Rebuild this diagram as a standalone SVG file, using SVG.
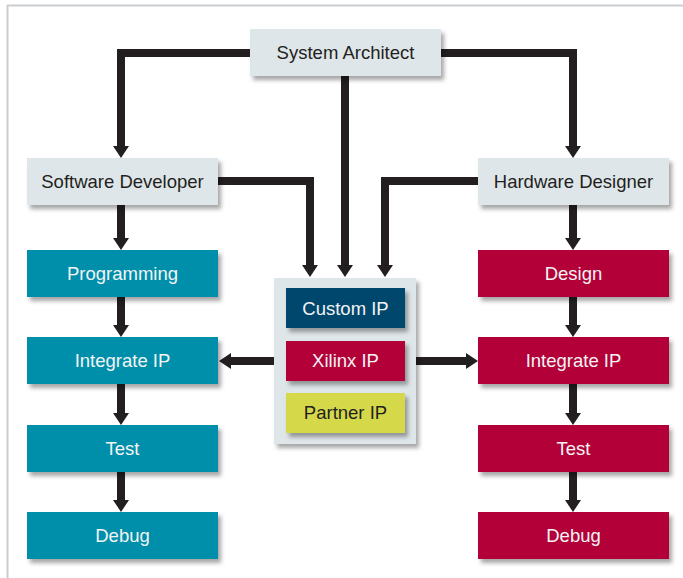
<svg xmlns="http://www.w3.org/2000/svg" width="683" height="578" viewBox="0 0 683 578">
<defs>
<filter id="sh" x="-10%" y="-20%" width="130%" height="150%">
<feDropShadow dx="3" dy="4" stdDeviation="2.2" flood-color="#000" flood-opacity="0.35"/>
</filter>
<marker id="ah" viewBox="0 0 12 16" refX="0" refY="8" markerWidth="12" markerHeight="16" markerUnits="userSpaceOnUse" orient="auto">
<path d="M0,0 L12,8 L0,16 Z" fill="#231f20"/>
</marker>
<style>
.lt{fill:#dfe6e9}
.tl{fill:#008fab}
.rd{fill:#b30037}
.nv{fill:#00466e}
.yl{fill:#d5d94a}
.bx{filter:url(#sh)}
text{font-family:"Liberation Sans",Arial,sans-serif;font-size:18.5px;text-anchor:middle}
.dk{fill:#231f20}
.wt{fill:#f4f4f4}
.cn{fill:none;stroke:#231f20;stroke-width:8;stroke-linejoin:miter;stroke-linecap:butt}
</style>
</defs>
<rect width="683" height="578" fill="#fff"/>
<g id="frame" stroke="#c9ced2" stroke-width="2" fill="none">
<line x1="7" y1="5.5" x2="683" y2="5.5"/>
<line x1="7.5" y1="5" x2="7.5" y2="578"/>
</g>
<g id="connectors">
<path class="cn" d="M250,53 H121 V146" marker-end="url(#ah)"/>
<path class="cn" d="M441,53 H573 V146" marker-end="url(#ah)"/>
<path class="cn" d="M345,76 V265" marker-end="url(#ah)"/>
<path class="cn" d="M218,181 H310 V265" marker-end="url(#ah)"/>
<path class="cn" d="M478,181 H385 V265" marker-end="url(#ah)"/>
<path class="cn" d="M121,205 V238" marker-end="url(#ah)"/>
<path class="cn" d="M121,297 V325" marker-end="url(#ah)"/>
<path class="cn" d="M121,384 V413" marker-end="url(#ah)"/>
<path class="cn" d="M121,472 V500" marker-end="url(#ah)"/>
<path class="cn" d="M573,205 V238" marker-end="url(#ah)"/>
<path class="cn" d="M573,297 V325" marker-end="url(#ah)"/>
<path class="cn" d="M573,384 V413" marker-end="url(#ah)"/>
<path class="cn" d="M573,472 V500" marker-end="url(#ah)"/>
<path class="cn" d="M274,361 H231" marker-end="url(#ah)"/>
<path class="cn" d="M416,361 H466" marker-end="url(#ah)"/>
</g>
<g id="system-architect"><rect class="lt bx" x="250" y="29" width="191" height="47"/><text class="dk" x="345.5" y="59">System Architect</text></g>
<g id="software-developer"><rect class="lt bx" x="27" y="158" width="191" height="47"/><text class="dk" x="122.5" y="188">Software Developer</text></g>
<g id="hardware-designer"><rect class="lt bx" x="478" y="158" width="191" height="47"/><text class="dk" x="573.5" y="188">Hardware Designer</text></g>
<g id="ip-panel"><rect class="lt bx" x="274" y="278" width="142" height="166"/></g>
<g id="custom-ip"><rect class="nv bx" x="286" y="288" width="119" height="40"/><text class="wt" x="345.5" y="315">Custom IP</text></g>
<g id="xilinx-ip"><rect class="rd bx" x="286" y="341" width="119" height="40"/><text class="wt" x="345.5" y="367">Xilinx IP</text></g>
<g id="partner-ip"><rect class="yl bx" x="286" y="393" width="119" height="40"/><text class="dk" x="345.5" y="419">Partner IP</text></g>
<g id="sw-programming"><rect class="tl bx" x="27" y="250" width="191" height="47"/><text class="wt" x="122.5" y="280">Programming</text></g>
<g id="sw-integrate"><rect class="tl bx" x="27" y="337" width="191" height="47"/><text class="wt" x="122.5" y="367">Integrate IP</text></g>
<g id="sw-test"><rect class="tl bx" x="27" y="425" width="191" height="47"/><text class="wt" x="122.5" y="455">Test</text></g>
<g id="sw-debug"><rect class="tl bx" x="27" y="512" width="191" height="47"/><text class="wt" x="122.5" y="542">Debug</text></g>
<g id="hw-design"><rect class="rd bx" x="478" y="250" width="191" height="47"/><text class="wt" x="573.5" y="280">Design</text></g>
<g id="hw-integrate"><rect class="rd bx" x="478" y="337" width="191" height="47"/><text class="wt" x="573.5" y="367">Integrate IP</text></g>
<g id="hw-test"><rect class="rd bx" x="478" y="425" width="191" height="47"/><text class="wt" x="573.5" y="455">Test</text></g>
<g id="hw-debug"><rect class="rd bx" x="478" y="512" width="191" height="47"/><text class="wt" x="573.5" y="542">Debug</text></g>
</svg>
